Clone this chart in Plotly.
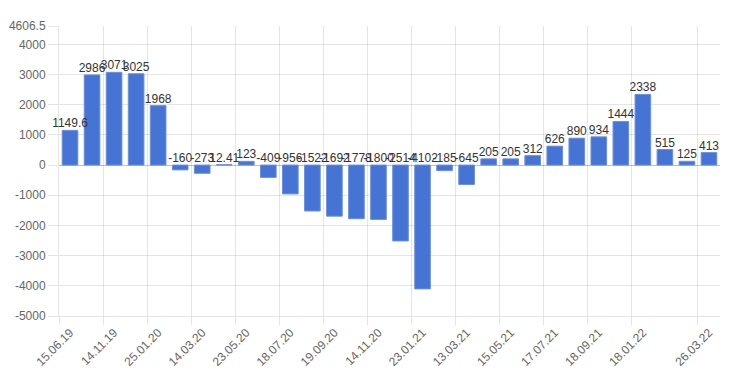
import plotly.graph_objects as go

values = [1149.6, 2986, 3071, 3025, 1968, -160, -273, 12.41, 123, -409,
          -956, -1522, -1692, -1778, -1800, -2514, -4102, -185, -645, 205,
          205, 312, 626, 890, 934, 1444, 2338, 515, 125, 413]
label_idx = [0, 2, 4, 6, 8, 10, 12, 14, 16, 18, 20, 22, 24, 26, 29]
tick_labels = ["15.06.19", "14.11.19", "25.01.20", "14.03.20", "23.05.20",
               "18.07.20", "19.09.20", "14.11.20", "23.01.21", "13.03.21",
               "15.05.21", "17.07.21", "18.09.21", "18.01.22", "26.03.22"]
y_ticks = [-5000, -4000, -3000, -2000, -1000, 0, 1000, 2000, 3000, 4000, 4606.5]

n = len(values)
xs = list(range(n))
grid = "rgba(0,0,0,0.1)"
font = dict(family="Liberation Sans, Arial, sans-serif", size=12, color="#666")

def fmt(v):
    return ("%g" % v)

fig = go.Figure()
fig.add_trace(go.Bar(x=xs, y=values, width=0.71,
                     marker=dict(color="#4674D4", line=dict(color="#6a8fe4", width=1)),
                     hoverinfo="skip"))
fig.add_trace(go.Scatter(x=xs, y=[max(v, 0) for v in values], xaxis="x2",
                         mode="text", text=[fmt(v) for v in values],
                         textposition="top center", cliponaxis=False,
                         textfont=dict(family="Liberation Sans, Arial, sans-serif", size=12, color="#333"),
                         hoverinfo="skip"))

fig.update_layout(
    width=734, height=371,
    margin=dict(l=51, r=22, t=18, b=63),
    paper_bgcolor="white", plot_bgcolor="white",
    showlegend=False, font=font,
    xaxis=dict(range=[-0.5, n - 0.5], tickmode="array",
               tickvals=[i - 0.5 for i in label_idx], showticklabels=False,
               showgrid=True, gridcolor=grid, gridwidth=1,
               ticks="outside", ticklen=8, tickcolor=grid,
               showline=True, linecolor=grid, zeroline=False, automargin=False),
    xaxis2=dict(range=[-0.5, n - 0.5], overlaying="x", anchor="y", side="bottom",
                tickmode="array", tickvals=label_idx, ticktext=tick_labels,
                tickangle=-45, showgrid=False, ticks="outside", ticklen=4,
                tickcolor="rgba(0,0,0,0)", showline=False,
                zeroline=False, tickfont=font, automargin=False),
    yaxis=dict(range=[-5000, 4606.5], tickmode="array", tickvals=y_ticks,
               ticktext=[fmt(v) for v in y_ticks],
               showgrid=True, gridcolor=grid, gridwidth=1,
               ticks="outside", ticklen=10, tickcolor=grid,
               zeroline=True, zerolinecolor="rgba(0,0,0,0.25)", zerolinewidth=1,
               showline=True, linecolor=grid, tickfont=font, automargin=False),
)

fig.write_html("out.html")
